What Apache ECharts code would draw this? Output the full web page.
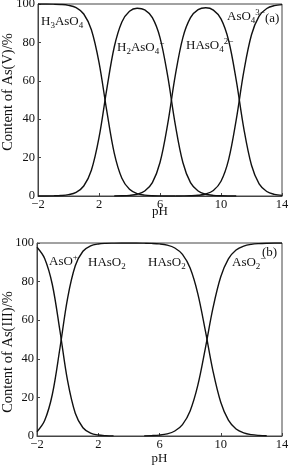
<!DOCTYPE html>
<html><head><meta charset="utf-8">
<script src="https://cdn.jsdelivr.net/npm/echarts@6/dist/echarts.min.js"></script>
<style>html,body{margin:0;padding:0;background:#fff}#c{width:289px;height:468px}</style>
</head><body><div id="c"></div>
<script>
// pH sample points (shared by both panels)
const pH = [-2,-1.5,-1,-0.5,0,0.5,1,1.5,2,2.5,3,3.5,4,4.5,5,5.5,6,6.5,7,7.5,8,8.5,9,9.5,10,10.5,11,11.5,12,12.5,13,13.5,14];
const xTicks = [-2, 2, 6, 10, 14];
const yTicks = [0, 20, 40, 60, 80, 100];

// Panel (a): As(V) species, %
const h3aso4 = [99.99,99.97,99.91,99.76,99.31,98.09,94.79,86.59,69.61,44.84,22.38,9.27,3.49,1.26,0.44,0.15,0.05,0.02,0.01,'-','-','-','-','-','-','-','-','-','-','-','-','-','-'];
const h2aso4 = [0.01,0.03,0.09,0.24,0.69,1.91,5.21,13.41,30.39,55.16,77.6,90.63,96.19,97.82,96.98,92.88,82.52,62.67,37.33,17.44,6.97,2.58,0.93,0.32,0.11,0.03,0.01,'-','-','-','-','-','-'];
const haso4 = ['-','-','-','-','-','-','-','-','-','-',0.02,0.10,0.32,0.92,2.58,6.97,17.44,37.33,62.67,82.52,92.91,97.06,98.05,96.82,92.22,80.98,60.22,34.94,16.01,6.33,2.34,0.84,0.30];
const aso4 = ['-','-','-','-','-','-','-','-','-','-','-','-','-','-','-','-','-','-',0.01,0.04,0.12,0.36,1.03,2.86,7.67,18.98,39.78,65.06,83.99,93.67,97.66,99.16,99.70];

// Panel (b): As(III) species, %
const asoPlus = [97.8,92.0,78.5,54.4,28.5,11.8,4.29,1.48,0.5,0.17,0.06,'-','-','-','-','-','-','-','-','-','-','-','-','-','-','-','-','-','-','-','-','-','-'];
const haso2 = [2.2,8.0,21.5,45.6,71.5,88.2,95.71,98.52,99.5,99.83,99.94,100,100,100,99.92,99.8,99.53,98.89,97.41,94.07,87.0,73.8,54.3,33.4,17.5,8.2,3.6,1.6,0.7,0.3,0.1,'-','-'];
const aso2 = ['-','-','-','-','-','-','-','-','-','-','-','-','-','-',0.08,0.2,0.47,1.11,2.59,5.93,13.0,26.2,45.7,66.6,82.5,91.8,96.4,98.4,99.3,99.7,99.9,100,100];

const FONT = '"Liberation Serif", "Times New Roman", Times, serif';
const INK = '#111';
const AX = '#444';

function pairs(v){ return pH.map((x,i)=>[x, v[i]]); }

function xAxis(i, gap){
  return {
    gridIndex:i, type:'value', min:xTicks[0], max:xTicks[xTicks.length-1], interval:xTicks[1]-xTicks[0],
    axisLine:{show:true, onZero:false, lineStyle:{color:AX, width:1}},
    axisTick:{show:true, inside:true, length:3, lineStyle:{color:AX}},
    splitLine:{show:false},
    axisLabel:{show:true, showMinLabel:true, showMaxLabel:true, color:INK, fontFamily:FONT, fontSize:12.5, margin:2,
      formatter:v=>String(v).replace('-','\u2212')},
    name:'pH', nameLocation:'middle', nameGap:gap, nameMoveOverlap:false,
    nameTextStyle:{color:INK, fontFamily:FONT, fontSize:13}
  };
}
function yAxis(i){
  return {
    gridIndex:i, type:'value', min:yTicks[0], max:yTicks[yTicks.length-1], interval:yTicks[1]-yTicks[0],
    axisLine:{show:true, onZero:false, lineStyle:{color:AX, width:1}},
    axisTick:{show:true, inside:true, length:3, lineStyle:{color:AX}},
    splitLine:{show:false},
    axisLabel:{show:true, showMinLabel:true, showMaxLabel:true, color:INK, fontFamily:FONT, fontSize:12.5, margin:3}
  };
}
function line(name, data, gi){
  return {name, type:'line', xAxisIndex:gi, yAxisIndex:gi, data:pairs(data), smooth:0.35,
    showSymbol:false, symbol:'none', clip:true, connectNulls:false,
    lineStyle:{color:INK, width:1.4}, itemStyle:{color:INK}, emphasis:{disabled:true}, silent:true, animation:false};
}

const RICH = {
  n:{fontFamily:FONT, fontSize:13, fill:INK, color:INK},
  s:{fontFamily:FONT, fontSize:9, fill:INK, color:INK, padding:[8,0,0,0]},
  p:{fontFamily:FONT, fontSize:9, fill:INK, color:INK, padding:[0,0,8,0]}
};
function lbl(x, y, text){
  return {type:'text', x, y, silent:true, z:10,
    style:{text, rich:RICH, align:'left', verticalAlign:'middle', fill:INK, fontFamily:FONT, fontSize:13}};
}
function ytitle(x, y, text){
  return {type:'text', x, y, rotation:Math.PI/2, silent:true,
    style:{text, align:'center', verticalAlign:'middle', fill:INK, fontFamily:FONT, fontSize:14.5}};
}

const chart = echarts.init(document.getElementById('c'), null, {renderer:'canvas'});
chart.setOption({
  animation:false,
  backgroundColor:'#fff',
  grid:[
    {left:38, top:4, width:244, height:192, show:true, borderColor:AX, borderWidth:1, backgroundColor:'transparent', containLabel:false, outerBoundsMode:'none'},
    {left:37, top:243, width:245, height:193, show:true, borderColor:AX, borderWidth:1, backgroundColor:'transparent', containLabel:false, outerBoundsMode:'none'}
  ],
  xAxis:[xAxis(0, 9), xAxis(1, 16)],
  yAxis:[yAxis(0), yAxis(1)],
  series:[
    line('H3AsO4', h3aso4, 0),
    line('H2AsO4-', h2aso4, 0),
    line('HAsO4 2-', haso4, 0),
    line('AsO4 3-', aso4, 0),
    line('AsO+', asoPlus, 1),
    line('HAsO2', haso2, 1),
    line('AsO2-', aso2, 1)
  ],
  graphic:[
    ytitle(8.5, 92, 'Content of As(V)/%'),
    ytitle(8.5, 352, 'Content of As(III)/%'),
    lbl(41, 22, '{n|H}{s|3}{n|AsO}{s|4}'),
    lbl(117, 48, '{n|H}{s|2}{n|AsO}{s|4}{p|\u2212}'),
    lbl(186, 46, '{n|HAsO}{s|4}{p|2\u2212}'),
    lbl(227, 17, '{n|AsO}{s|4}{p|3\u2212}'),
    lbl(265, 19, '{n|(a)}'),
    lbl(49, 262, '{n|AsO}{p|+}'),
    lbl(88, 263, '{n|HAsO}{s|2}'),
    lbl(148, 263, '{n|HAsO}{s|2}'),
    lbl(232, 263, '{n|AsO}{s|2}{p|\u2212}'),
    lbl(262, 253, '{n|(b)}')
  ]
});
</script></body></html>
